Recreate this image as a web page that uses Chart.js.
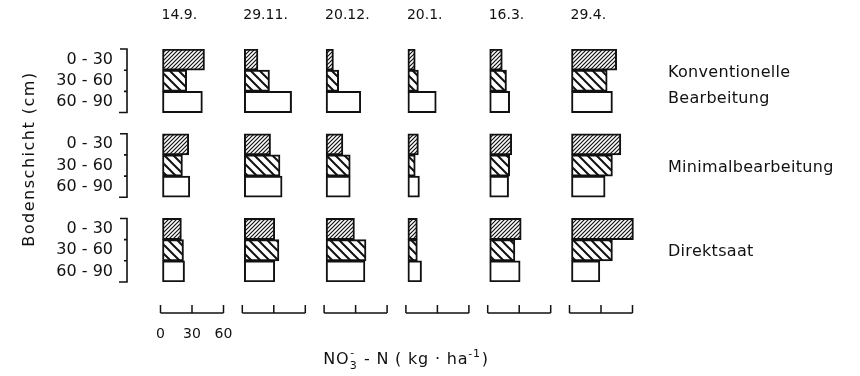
<!DOCTYPE html>
<html><head><meta charset="utf-8">
<script src="https://cdn.jsdelivr.net/npm/chart.js@4.4.1/dist/chart.umd.min.js"></script>
<style>html,body{margin:0;padding:0;background:#fff;}canvas{display:block;}</style>
</head><body>
<canvas id="c" width="860" height="376"></canvas>
<script>
// ---- data (NO3-N, kg/ha) ----
const dates = ['14.9.', '29.11.', '20.12.', '20.1.', '16.3.', '29.4.'];
const depths = ['0 - 30', '30 - 60', '60 - 90'];
const treatments = [['Konventionelle', 'Bearbeitung'], ['Minimalbearbeitung'], ['Direktsaat']];
// per date: [0-30, 30-60, 60-90]
const konventionell = [[40, 23, 38], [13, 24, 45], [7, 12, 33], [7, 10, 27], [12, 16, 19], [43, 34, 39]];
const minimal       = [[25, 19, 26], [25, 34, 36], [16, 23, 23], [10, 7, 11], [21, 19, 18], [47, 39, 32]];
const direktsaat    = [[18, 20, 21], [29, 33, 29], [27, 38, 37], [9, 9, 13], [30, 24, 29], [59, 39, 27]];
const scaleTicks = [0, 30, 60];
const axisTitle = 'Bodenschicht (cm)';

// ---- layout ----
const AREA_L = 127, AREA_R = 650, AREA_T = 49, AREA_B = 282;
const PX_PER_UNIT = 1.05, ORIGIN0 = 162.5, PANEL_STEP = 81.8;
const FONT = '"DejaVu Sans", sans-serif';
const INK = '#111';

const rows = [...depths, '', ...depths, '', ...depths];
const canvas = document.getElementById('c');
const ctx0 = canvas.getContext('2d');

function hatch(size, lw, dir) {
  const c = document.createElement('canvas'); c.width = c.height = size;
  const g = c.getContext('2d');
  g.fillStyle = '#fff'; g.fillRect(0, 0, size, size);
  g.strokeStyle = INK; g.lineWidth = lw;
  g.beginPath();
  if (dir === '/') {
    g.moveTo(-2, size + 2); g.lineTo(size + 2, -2);
    g.moveTo(-2, 2); g.lineTo(2, -2);
    g.moveTo(size - 2, size + 2); g.lineTo(size + 2, size - 2);
  } else {
    g.moveTo(-2, -2); g.lineTo(size + 2, size + 2);
    g.moveTo(size - 2, -2); g.lineTo(size + 2, 2);
    g.moveTo(-2, size - 2); g.lineTo(2, size + 2);
  }
  g.stroke();
  return ctx0.createPattern(c, 'repeat');
}
const fills = [hatch(4, 1.2, '/'), hatch(9, 2, '\\'), '#fff'];
const rowFills = [...fills, '#fff', ...fills, '#fff', ...fills];

const datasets = dates.map((d, i) => ({
  label: d,
  data: [...konventionell[i], null, ...minimal[i], null, ...direktsaat[i]],
  xAxisID: 'x' + i,
  yAxisID: 'y',
  backgroundColor: rowFills,
  borderColor: INK,
  borderWidth: 2,
  borderSkipped: false,
  grouped: false,
  barPercentage: 1,
  categoryPercentage: 1
}));

const scales = {
  y: {
    type: 'category', position: 'left', labels: rows, offset: true,
    grid: { display: false, drawTicks: false }, border: { display: false },
    ticks: { color: INK, font: { family: FONT, size: 16 }, padding: 14, autoSkip: false },
    afterFit: s => { s.width = AREA_L; }
  }
};
dates.forEach((d, i) => {
  const origin = ORIGIN0 + PANEL_STEP * i;
  scales['x' + i] = {
    type: 'linear', position: 'bottom', display: false,
    min: -(origin - AREA_L) / PX_PER_UNIT,
    max: (AREA_R - origin) / PX_PER_UNIT
  };
});

const decor = {
  id: 'decor',
  afterDraw(chart) {
    const ctx = chart.ctx, y = chart.scales.y;
    const half = (y.getPixelForValue(1) - y.getPixelForValue(0)) / 2;
    ctx.save();
    ctx.fillStyle = INK; ctx.strokeStyle = INK;
    // y title (rotated)
    ctx.save();
    ctx.translate(30, 159); ctx.rotate(-Math.PI / 2);
    ctx.font = '16px ' + FONT; ctx.textAlign = 'center'; ctx.textBaseline = 'middle';
    ctx.letterSpacing = '1.5px';
    ctx.fillText(axisTitle, 0, 0);
    ctx.restore();
    // dates
    ctx.font = '14px ' + FONT; ctx.textAlign = 'left'; ctx.textBaseline = 'middle';
    dates.forEach((d, i) => {
      ctx.fillText(d, chart.scales['x' + i].getPixelForValue(0) - 1, 15);
    });
    // brackets
    ctx.lineWidth = 1.6;
    const bx = chart.chartArea.left;
    for (let g = 0; g < 3; g++) {
      const top = y.getPixelForValue(g * 4) - half, bot = y.getPixelForValue(g * 4 + 2) + half;
      ctx.beginPath();
      ctx.moveTo(bx - 7, top); ctx.lineTo(bx, top); ctx.lineTo(bx, bot); ctx.lineTo(bx - 8, bot);
      for (let k = 1; k < 3; k++) {
        const yy = y.getPixelForValue(g * 4 + k) - half;
        ctx.moveTo(bx - 3, yy); ctx.lineTo(bx, yy);
      }
      ctx.stroke();
    }
    // treatment labels
    ctx.font = '16px ' + FONT; ctx.textAlign = 'left';
    ctx.letterSpacing = '0.3px';
    treatments.forEach((lines, g) => {
      const c = y.getPixelForValue(g * 4 + 1);
      if (lines.length === 2) {
        ctx.fillText(lines[0], 668, c - 8);
        ctx.fillText(lines[1], 668, c + 18);
      } else {
        ctx.fillText(lines[0], 668, c + 2);
      }
    });
    ctx.letterSpacing = '0px';
    // scale bars
    ctx.lineWidth = 1.5;
    const sy = 313;
    dates.forEach((d, i) => {
      const s = chart.scales['x' + i];
      const a = s.getPixelForValue(scaleTicks[0]) - 2, b = s.getPixelForValue(scaleTicks[scaleTicks.length - 1]) - 2;
      ctx.beginPath();
      ctx.moveTo(a, sy); ctx.lineTo(b, sy);
      scaleTicks.forEach(v => { const p = s.getPixelForValue(v) - 2; ctx.moveTo(p, sy); ctx.lineTo(p, sy - 8); });
      ctx.stroke();
    });
    ctx.font = '14px ' + FONT; ctx.textAlign = 'center';
    scaleTicks.forEach(v => ctx.fillText(String(v), chart.scales.x0.getPixelForValue(v) - 2, 334));
    // x label: NO3- - N (kg · ha-1)
    const big = '16px ' + FONT, small = '11px ' + FONT;
    ctx.textAlign = 'left'; ctx.textBaseline = 'alphabetic';
    ctx.letterSpacing = '0.8px';
    ctx.font = big; const wNO = ctx.measureText('NO').width;
    const mid = ' - N ( kg · ha', close = ')';
    const wMid = ctx.measureText(mid).width, wClose = ctx.measureText(close).width;
    ctx.font = small; const w3 = ctx.measureText('3').width + 1, wSup = ctx.measureText('-1').width + 1;
    const total = wNO + w3 + wMid + wSup + wClose;
    let x = 406 - total / 2; const base = 364;
    ctx.font = big; ctx.fillText('NO', x, base); x += wNO;
    ctx.font = small; ctx.fillText('3', x + 0.5, base + 5); ctx.fillText('-', x + 1, base - 8); x += w3;
    ctx.font = big; ctx.fillText(mid, x, base); x += wMid;
    ctx.font = small; ctx.fillText('-1', x, base - 7); x += wSup;
    ctx.font = big; ctx.fillText(close, x, base);
    ctx.restore();
  }
};

new Chart(canvas, {
  type: 'bar',
  data: { labels: rows, datasets },
  options: {
    indexAxis: 'y',
    responsive: false,
    animation: false,
    devicePixelRatio: 1,
    layout: { padding: { top: AREA_T, bottom: 376 - AREA_B, left: 0, right: 860 - AREA_R } },
    plugins: { legend: { display: false }, tooltip: { enabled: false } },
    scales
  },
  plugins: [decor]
});
</script>
</body></html>
